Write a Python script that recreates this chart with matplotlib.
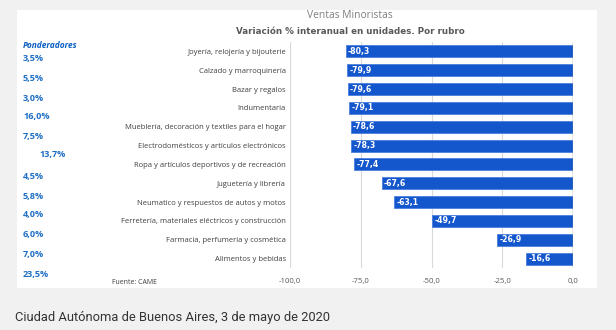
import matplotlib.pyplot as plt
from matplotlib.patches import Rectangle

# data
rubros = [
    'Joyería, relojería y bijouterie',
    'Calzado y marroquinería',
    'Bazar y regalos',
    'Indumentaria',
    'Mueblería, decoración y textiles para el hogar',
    'Electrodomésticos y artículos electrónicos',
    'Ropa y artículos deportivos y de recreación',
    'Juguetería y librería',
    'Neumatico y respuestos de autos y motos',
    'Ferretería, materiales eléctricos y construcción',
    'Farmacia, perfumería y cosmética',
    'Alimentos y bebidas',
]
variacion = [-80.3, -79.9, -79.6, -79.1, -78.6, -78.3, -77.4, -67.6, -63.1, -49.7, -26.9, -16.6]
ponderadores = ['3,5%', '5,5%', '3,0%', '16,0%', '7,5%', '13,7%', '4,5%', '5,8%',
                '4,0%', '6,0%', '7,0%', '23,5%']
xticks = [-100, -75, -50, -25, 0]

W, H = 616, 330
fig = plt.figure(figsize=(W / 100, H / 100), dpi=100)
fig.patch.set_facecolor('#f1f1f1')

# white panel
fig.add_artist(Rectangle((17 / W, 1 - 288 / H), 580 / W, 278 / H,
                         transform=fig.transFigure, facecolor='white',
                         edgecolor='none', zorder=0))

ax = fig.add_axes([290 / W, 1 - 268 / H, 283 / W, 226 / H])
ax.set_facecolor('white')
ypos = list(range(len(rubros)))
ax.barh(ypos, variacion, height=0.64, color='#1456cc', edgecolor='#4a7fe0',
        linewidth=0.6, zorder=3)
for y, v in zip(ypos, variacion):
    ax.text(v + 0.8, y, f'{v:.1f}'.replace('.', ','), color='white',
            fontsize=5.6, fontweight='bold', va='center', ha='left', zorder=4,
            family='DejaVu Sans')

ax.set_xlim(-100, 0)
ax.set_ylim(len(rubros) - 0.5, -0.5)
ax.set_yticks(ypos)
ax.set_yticklabels(rubros, fontsize=5.5, color='#404040', family='Open Sans')
ax.set_xticks(xticks)
ax.set_xticklabels([f'{t:.1f}'.replace('.', ',') for t in xticks],
                   fontsize=5.6, color='#595959', family='Open Sans')
ax.tick_params(axis='both', length=0, pad=3)
ax.tick_params(axis='x', pad=7)
ax.grid(axis='x', color='#d9d9d9', linewidth=0.8, zorder=0)
for s in ax.spines.values():
    s.set_visible(False)
ax.axvline(0, color='#8c8c8c', linewidth=1, zorder=5)

# titles
fig.text(350 / W, 1 - 16 / H, 'Ventas Minoristas', ha='center', va='center',
         fontsize=7.4, color='#7f7f7f', family='Open Sans')
fig.text(350 / W, 1 - 32 / H, 'Variación % interanual en unidades. Por rubro',
         ha='center', va='center', fontsize=6.3, color='#595959',
         fontweight='bold', family='DejaVu Sans')

# ponderadores
fig.text(23 / W, 1 - 46 / H, 'Ponderadores', ha='left', va='center',
         fontsize=6.0, color='#0b5fc2', fontstyle='italic', fontweight='bold',
         family='Open Sans')
pond_y = [58, 78, 98, 117, 136, 155, 176, 196, 215, 235, 255, 275]
for i, (p, py) in enumerate(zip(ponderadores, pond_y)):
    px = 40 if i == 5 else 23
    fig.text(px / W, 1 - py / H, p, ha='left', va='center', fontsize=6.6,
             color='#1f6fc5', fontweight='bold', family='Open Sans')

fig.text(112 / W, 1 - 283 / H, 'Fuente: CAME', ha='left', va='center',
         fontsize=5.0, color='#404040', family='Open Sans')

fig.text(15 / W, 1 - 318 / H, 'Ciudad Autónoma de Buenos Aires, 3 de mayo de 2020',
         ha='left', va='center', fontsize=9.3, color='#333333',
         family='Roboto')

fig.savefig('out.png', dpi=100, facecolor=fig.get_facecolor())
